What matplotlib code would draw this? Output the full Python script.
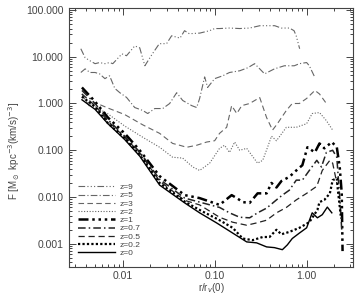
import matplotlib
matplotlib.use("Agg")
import matplotlib.pyplot as plt
from matplotlib.ticker import FormatStrFormatter, LogLocator, NullFormatter

plt.rcParams["font.family"] = ["Liberation Sans", "DejaVu Sans"]
plt.rcParams["mathtext.fontset"] = "dejavusans"

# ---- data ----
z9_x = [0.0035, 0.0039, 0.0044, 0.0050, 0.0056, 0.0064, 0.0072, 0.0078, 0.0098, 0.011,
        0.0135, 0.0153, 0.0174, 0.021, 0.025, 0.030, 0.034, 0.042, 0.047, 0.053,
        0.069, 0.088, 0.10, 0.113, 0.145, 0.187, 0.24, 0.31, 0.45, 0.53, 0.65, 0.73, 0.77, 0.84]
z9_y = [14.8, 9.5, 8.2, 7.1, 7.5, 7.1, 7.5, 7.1, 11.5, 10.5,
        17, 15.5, 6.4, 11.5, 19, 19, 28, 25, 36, 31,
        32, 36, 40, 40, 41, 40, 41, 46, 46, 41, 41, 36, 28, 14.8]

z5_x = [0.0035, 0.0039, 0.0044, 0.0050, 0.0056, 0.0064, 0.0072, 0.0082, 0.0093, 0.0110,
        0.0135, 0.0165, 0.0187, 0.0223, 0.0272, 0.0324, 0.0386, 0.0449, 0.0563, 0.0637,
        0.0686, 0.0778, 0.0838, 0.100, 0.122, 0.145, 0.187, 0.229, 0.272, 0.309,
        0.349, 0.447, 0.572, 0.734, 0.835, 1.00, 1.07, 1.23]
z5_y = [4.6, 5.5, 4.6, 4.6, 4.3, 3.4, 3.9, 2.1, 1.7, 1.35,
        0.82, 0.71, 0.61, 0.78, 0.78, 1.0, 1.7, 1.16, 0.9, 0.82,
        1.28, 3.7, 2.2, 3.4, 3.9, 4.6, 5.0, 5.8, 7.1, 5.5,
        4.3, 5.5, 6.4, 6.4, 7.1, 7.5, 6.4, 3.6]

z3_x = [0.0036, 0.0039, 0.0044, 0.0050, 0.0056, 0.0069, 0.0105, 0.0165, 0.0252, 0.0349,
        0.0416, 0.0496, 0.0637, 0.0818, 0.100, 0.113, 0.135, 0.153, 0.174, 0.197,
        0.240, 0.309, 0.367, 0.426, 0.481, 0.602, 0.698, 0.835, 1.00, 1.23, 1.38, 1.64]
z3_y = [1.6, 1.2, 0.85, 1.0, 0.95, 0.8, 0.58, 0.35, 0.23, 0.14,
        0.128, 0.116, 0.128, 0.15, 0.16, 0.23, 0.31, 0.9, 0.61, 0.9,
        1.0, 1.34, 0.5, 0.27, 0.37, 0.71, 1.0, 1.0, 1.28, 1.9, 1.6, 1.0]

z2_x = [0.0036, 0.0044, 0.0056, 0.0069, 0.0105, 0.0165, 0.0252, 0.0349, 0.0449, 0.0577,
        0.0686, 0.0882, 0.113, 0.128, 0.145, 0.165, 0.187, 0.223, 0.240, 0.293,
        0.333, 0.376, 0.415, 0.470, 0.602, 0.772, 1.00, 1.15, 1.38, 1.64, 1.92]
z2_y = [1.4, 1.0, 0.75, 0.6, 0.33, 0.19, 0.116, 0.071, 0.068, 0.044,
        0.037, 0.053, 0.11, 0.128, 0.09, 0.15, 0.1, 0.11, 0.09, 0.053,
        0.061, 0.116, 0.2, 0.16, 0.31, 0.31, 0.37, 0.61, 0.64, 0.43, 0.27]

z1_x = [0.0036, 0.0050, 0.0069, 0.0105, 0.0153, 0.0252, 0.0472, 0.0686, 0.113, 0.153,
        0.174, 0.202, 0.240, 0.293, 0.367, 0.415, 0.470, 0.532, 0.648, 0.772,
        0.899, 1.02, 1.23, 1.38, 1.56, 1.88, 2.13, 2.29, 2.41, 2.46]
z1_y = [2.2, 1.1, 0.5, 0.23, 0.1, 0.028, 0.011, 0.0095, 0.0068, 0.011,
        0.0095, 0.0078, 0.0075, 0.012, 0.012, 0.02, 0.016, 0.022, 0.027, 0.037,
        0.048, 0.116, 0.09, 0.14, 0.11, 0.15, 0.116, 0.044, 0.012, 0.0007]

z07_x = [0.0036, 0.0050, 0.0069, 0.0105, 0.0153, 0.0252, 0.0472, 0.0686, 0.113, 0.145,
         0.187, 0.240, 0.293, 0.367, 0.470, 0.545, 0.648, 0.772, 0.899, 1.07,
         1.29, 1.45, 1.64, 1.92, 2.13, 2.29, 2.41]
z07_y = [1.9, 1.0, 0.45, 0.2, 0.092, 0.024, 0.0095, 0.0078, 0.006, 0.0046,
         0.0037, 0.0036, 0.0046, 0.0058, 0.0087, 0.011, 0.014, 0.023, 0.023, 0.037,
         0.061, 0.044, 0.09, 0.1, 0.071, 0.01, 0.002]

z05_x = [0.0036, 0.0050, 0.0069, 0.0105, 0.0153, 0.0252, 0.0472, 0.0686, 0.113, 0.157,
         0.223, 0.286, 0.367, 0.470, 0.602, 0.772, 1.00, 1.29, 1.48, 1.79, 1.92, 2.13]
z05_y = [1.6, 0.9, 0.42, 0.19, 0.088, 0.022, 0.0085, 0.0068, 0.0037, 0.0029,
         0.0025, 0.0028, 0.0032, 0.0046, 0.006, 0.0087, 0.012, 0.017, 0.037, 0.061, 0.053, 0.02]

z02_x = [0.0036, 0.0050, 0.0069, 0.0105, 0.0153, 0.0252, 0.0472, 0.0686, 0.113, 0.157,
         0.202, 0.259, 0.333, 0.395, 0.470, 0.532, 0.648, 0.835, 1.07, 1.31,
         1.38, 1.56, 1.79, 1.92, 2.13, 2.18, 2.35]
z02_y = [1.4, 0.85, 0.38, 0.18, 0.08, 0.02, 0.008, 0.0053, 0.0032, 0.0022,
         0.0013, 0.0012, 0.0014, 0.0014, 0.002, 0.0016, 0.0018, 0.0022, 0.0029, 0.0053,
         0.0078, 0.0087, 0.012, 0.023, 0.025, 0.015, 0.004]

z0_x = [0.0036, 0.0050, 0.0069, 0.0105, 0.0153, 0.0252, 0.0472, 0.0686, 0.105, 0.157,
        0.223, 0.286, 0.367, 0.447, 0.545, 0.617, 0.698, 0.835, 1.00, 1.15,
        1.31, 1.48, 1.68, 1.88]
z0_y = [1.2, 0.75, 0.37, 0.17, 0.075, 0.018, 0.0075, 0.0046, 0.0028, 0.0017,
        0.0011, 0.00105, 0.00086, 0.00083, 0.00075, 0.00095, 0.0013, 0.0017, 0.0022, 0.0046,
        0.0036, 0.0042, 0.0061, 0.0046]

labels = ["z=9", "z=5", "z=3", "z=2", "z=1", "z=0.7", "z=0.5", "z=0.2", "z=0"]

dash3dot = (0, (6, 2, 1, 2, 1, 2, 1, 2))
dashdot = (0, (6, 2, 1, 2))
dashed = (0, (5, 3))
dotted = (0, (1, 1.5))

curves = [
    (z9_x, z9_y, dash3dot, "#666666", 0.8),
    (z5_x, z5_y, dashdot, "#666666", 0.8),
    (z3_x, z3_y, dashed, "#666666", 0.8),
    (z2_x, z2_y, dotted, "#666666", 0.8),
    (z1_x, z1_y, (0, (4, 1.5, 1, 1.5, 1, 1.5, 1, 1.5)), "black", 1.8),
    (z07_x, z07_y, (0, (5, 2, 1, 2)), "#222222", 1.1),
    (z05_x, z05_y, (0, (5, 3)), "#222222", 0.9),
    (z02_x, z02_y, (0, (1, 1)), "black", 1.6),
    (z0_x, z0_y, "-", "black", 1.0),
]

fig = plt.figure(figsize=(3.61, 2.96), dpi=100)
ax = fig.add_axes([0.191, 0.098, 0.787, 0.875])

for (x, y, ls, col, lw), lab in zip(curves, labels):
    ax.plot(x, y, linestyle=ls, color=col, linewidth=lw, label=lab)

ax.set_xscale("log")
ax.set_yscale("log")
ax.set_xlim(0.0026, 3.2)
ax.set_ylim(3.2e-4, 110)

ax.set_xticks([0.01, 0.1, 1.0])
ax.set_yticks([0.001, 0.01, 0.1, 1, 10, 100])
ax.xaxis.set_major_formatter(FormatStrFormatter("%.2f"))
ax.yaxis.set_major_formatter(FormatStrFormatter("%.3f"))
ax.xaxis.set_minor_locator(LogLocator(base=10, subs=range(2, 10), numticks=20))
ax.yaxis.set_minor_locator(LogLocator(base=10, subs=range(2, 10), numticks=20))
ax.xaxis.set_minor_formatter(NullFormatter())
ax.yaxis.set_minor_formatter(NullFormatter())

ax.tick_params(which="both", direction="in", top=True, right=True,
               colors="#444444", labelsize=7.5, width=0.7)
ax.tick_params(which="major", length=5, pad=4)
ax.tick_params(axis="x", which="major", pad=3)
ax.tick_params(which="minor", length=2.5)
for sp in ax.spines.values():
    sp.set_color("#444444")
    sp.set_linewidth(0.8)

ax.set_ylabel(r"F [M$_\odot$ kpc$^{-3}$(km/s)$^{-3}$]", fontsize=7, color="#444444")
ax.yaxis.set_label_coords(-0.165, 0.45)
ax.set_xlabel(r"r/r$_v$(0)", fontsize=7, color="#444444")
ax.xaxis.set_label_coords(0.5, -0.055)

leg = ax.legend(loc="lower left", bbox_to_anchor=(0.02, 0.025), frameon=False,
                fontsize=6, labelspacing=0.05, handlelength=4.4, handletextpad=0.6,
                borderaxespad=0)
for t in leg.get_texts():
    t.set_color("#444444")

fig.savefig("out.png", dpi=100)
